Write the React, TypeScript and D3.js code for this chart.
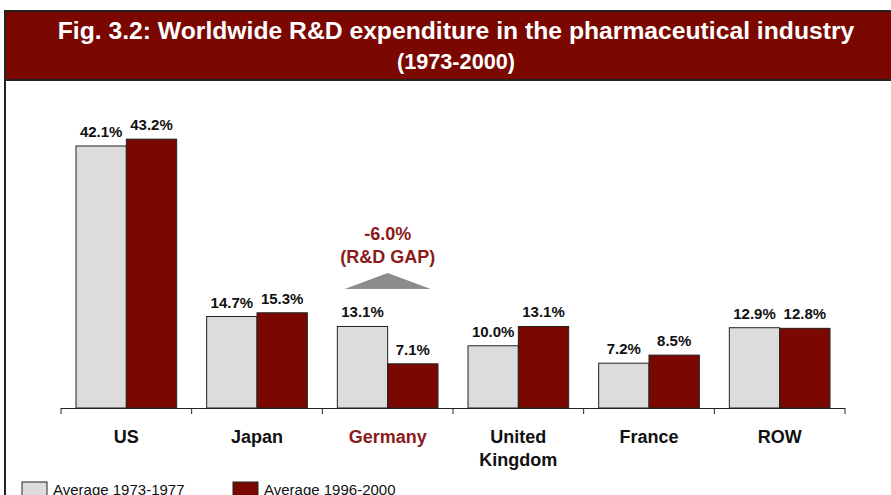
import React from "react";
import * as d3 from "d3";

const categories = ["US", "Japan", "Germany", "United Kingdom", "France", "ROW"];
const avg1973_1977 = [42.1, 14.7, 13.1, 10.0, 7.2, 12.9];
const avg1996_2000 = [43.2, 15.3, 7.1, 13.1, 8.5, 12.8];
const seriesNames = ["Average 1973-1977", "Average 1996-2000"];
const gapLabel = ["-6.0%", "(R&D GAP)"];

const W = 891;
const H = 495;
const RED = "#7a0800";
const GRAY = "#dcdcdc";
const FONT = "Liberation Sans, Arial, Helvetica, sans-serif";

export default function App() {
  const x = d3.scaleBand<string>().domain(categories).range([61, 845]);
  const inner = d3.scaleBand<number>().domain([0, 1]).range([15, x.bandwidth() - 15]).padding(0);
  const y = d3.scaleLinear().domain([0, 42.1]).range([408, 146]);
  const series = [avg1973_1977, avg1996_2000];
  const colors = [GRAY, RED];

  const gi = categories.indexOf("Germany");
  const gx = (x("Germany") as number) + x.bandwidth() / 2;

  return (
    <svg width={W} height={H} style={{ position: "absolute", left: 0, top: 0, background: "#fff" }} fontFamily={FONT}>
      <rect x={0} y={0} width={W} height={H} fill="#fff" />
      {/* title box */}
      <rect x={5} y={11} width={W + 20} height={69} fill={RED} stroke="#222" strokeWidth={2} />
      <line x1={5} x2={5} y1={11} y2={H} stroke="#222" strokeWidth={2} />
      <text x={456} y={39} textAnchor="middle" fill="#fff" fontWeight="bold" fontSize={24.7}>
        Fig. 3.2: Worldwide R&amp;D expenditure in the pharmaceutical industry
      </text>
      <text x={456} y={69} textAnchor="middle" fill="#fff" fontWeight="bold" fontSize={21.7}>
        (1973-2000)
      </text>

      {/* bars */}
      {categories.map((c, i) =>
        series.map((s, k) => {
          const bx = (x(c) as number) + (inner(k) as number);
          const bw = inner.bandwidth();
          const v = s[i];
          return (
            <g key={c + k}>
              <rect x={bx} y={y(v)} width={bw} height={y(0) - y(v)} fill={colors[k]} stroke="#222" strokeWidth={1} />
              <text x={bx + bw / 2} y={y(v) - 9} textAnchor="middle" fontWeight="bold" fontSize={15} fill="#111">
                {v.toFixed(1)}%
              </text>
            </g>
          );
        })
      )}

      {/* axis */}
      <line x1={61} x2={845} y1={408.5} y2={408.5} stroke="#222" strokeWidth={1} />
      {d3.range(categories.length + 1).map((i) => {
        const tx = 61 + i * x.step();
        return <line key={i} x1={tx} x2={tx} y1={408} y2={414} stroke="#222" strokeWidth={1} />;
      })}
      {categories.map((c) => {
        const cx = (x(c) as number) + x.bandwidth() / 2;
        const words = c === "United Kingdom" ? ["United", "Kingdom"] : [c];
        return (
          <text key={c} textAnchor="middle" fontWeight="bold" fontSize={18} fill={c === "Germany" ? "#8b1a1a" : "#111"}>
            {words.map((w, j) => (
              <tspan key={w} x={cx} y={443 + j * 23}>
                {w}
              </tspan>
            ))}
          </text>
        );
      })}

      {/* gap annotation */}
      <text x={gx} y={240} textAnchor="middle" fontWeight="bold" fontSize={18} fill="#8b1a1a">
        {gapLabel[0]}
      </text>
      <text x={gx} y={263} textAnchor="middle" fontWeight="bold" fontSize={18} fill="#8b1a1a">
        {gapLabel[1]}
      </text>
      <polygon
        points={`${gx - 43},289 ${gx},273 ${gx + 43},289`}
        fill="#8c8c8c"
        data-v={avg1973_1977[gi] - avg1996_2000[gi]}
      />

      {/* legend */}
      {seriesNames.map((n, k) => {
        const lx = k === 0 ? 22 : 233;
        return (
          <g key={n}>
            <rect x={lx} y={482} width={25} height={16} fill={colors[k]} stroke="#222" strokeWidth={1} />
            <text x={lx + 31} y={495} fontSize={15} fill="#111">
              {n}
            </text>
          </g>
        );
      })}
    </svg>
  );
}
